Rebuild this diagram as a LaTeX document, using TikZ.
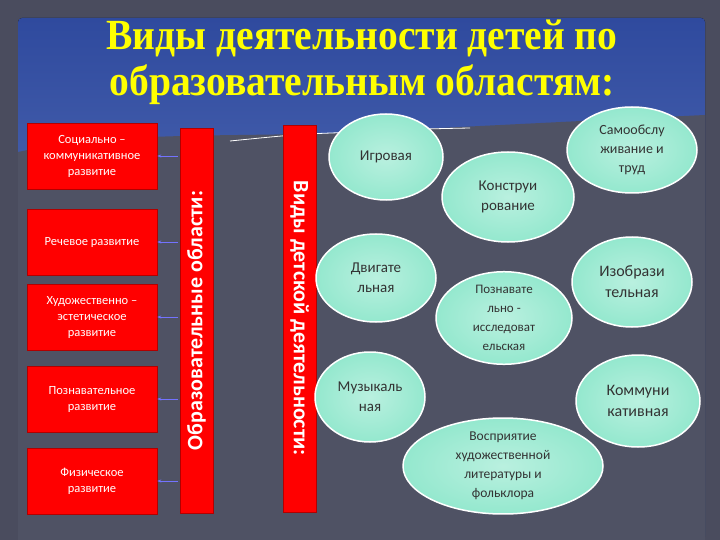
\documentclass[tikz,border=0pt]{standalone}
\usepackage{fontspec}
\setmainfont{Carlito}
\newfontfamily\titlefont{Liberation Serif}
\usetikzlibrary{arrows.meta,shapes.geometric}
\definecolor{bgdark}{HTML}{4A4C5E}
\definecolor{bluetop}{HTML}{2F4A9E}
\definecolor{bluebot}{HTML}{7088C8}
\definecolor{hill}{HTML}{4F5264}
\definecolor{mint}{HTML}{94E8CE}
\definecolor{ttl}{HTML}{FFFF00}
\tikzset{x=1pt,y=-1pt,
 redbox/.style={fill=red,draw=red!70!black,line width=0.6pt,text=white,align=center,font=\fontsize{12.5}{16}\selectfont,inner sep=1pt},
 bar/.style={fill=red,draw=red!70!black,line width=0.6pt,text=white,font=\bfseries\fontsize{22}{24}\selectfont,inner sep=0pt,anchor=center},
 act/.style={ellipse,inner color=mint!65,outer color=mint,draw=white,line width=1.5pt,align=center,font=\fontsize{15}{20}\selectfont,text=black!80,inner sep=0pt},
 conn/.style={-{Stealth[length=4pt]},draw=blue!55!white,line width=0.5pt}}
\begin{document}
\begin{tikzpicture}
\useasboundingbox (0,0) rectangle (720,540);
\fill[bgdark] (0,0) rectangle (720,540);
\fill[top color=bluetop,bottom color=bluebot,rounded corners=4pt] (18,18) rectangle (705,540);
\fill[hill] (18,152) .. controls (120,130) and (240,138) .. (360,132) .. controls (480,126) and (600,120) .. (705,115) -- (705,540) -- (18,540) -- cycle;
\draw[white!80,line width=0.8pt] (230,141) .. controls (300,134) .. (360,132) .. controls (420,129) .. (470,128);
\node[text=ttl,font=\titlefont\bfseries\fontsize{43}{46}\selectfont,align=center,xscale=0.92] (title) at (362,62) {Виды деятельности детей по\\образовательным областям:};
\foreach \n/\y/\t in {a/156/{Социально --\\коммуникативное\\развитие},b/242/{Речевое развитие},c/317/{Художественно --\\эстетическое\\развитие},d/399/{Познавательное\\развитие},e/481/{Физическое\\развитие}}
 \node[redbox,minimum width=130pt,minimum height=66pt] (\n) at (92,\y) {\t};
\node[bar,rotate=90,minimum width=385pt,minimum height=33pt] (oo) at (196.5,320.5) {Образовательные области:};
\node[bar,rotate=-90,minimum width=387pt,minimum height=33pt] (vd) at (299.5,318.5) {Виды детской деятельности:};
\foreach \n in {a,b,c,d,e} {\coordinate (s\n) at (178,0 |- \n); \draw[conn] (s\n) -- (\n.east);}
\node[act,minimum width=114pt,minimum height=86pt] (g) at (386,157) {Игровая};
\node[act,minimum width=130pt,minimum height=86pt,font=\fontsize{14}{19}\selectfont] (s) at (632,150) {Самообслу\\живание и\\труд};
\node[act,minimum width=132pt,minimum height=90pt] (k) at (508,197) {Конструи\\рование};
\node[act,minimum width=120pt,minimum height=88pt] (dv) at (376,278) {Двигате\\льная};
\node[act,minimum width=120pt,minimum height=90pt,font=\fontsize{16}{21}\selectfont] (iz) at (632,282) {Изобрази\\тельная};
\node[act,minimum width=136pt,minimum height=90pt,font=\fontsize{13}{19}\selectfont] (p) at (504,318) {Познавате\\льно -\\исследоват\\ельская};
\node[act,minimum width=110pt,minimum height=90pt] (m) at (370,397) {Музыкаль\\ная};
\node[act,minimum width=124pt,minimum height=92pt,font=\fontsize{16}{21}\selectfont] (km) at (638,401) {Коммуни\\кативная};
\node[act,minimum width=200pt,minimum height=90pt,font=\fontsize{13.5}{19}\selectfont] (v) at (503,466) {Восприятие\\художественной\\литературы и\\фольклора};
\end{tikzpicture}
\end{document}
